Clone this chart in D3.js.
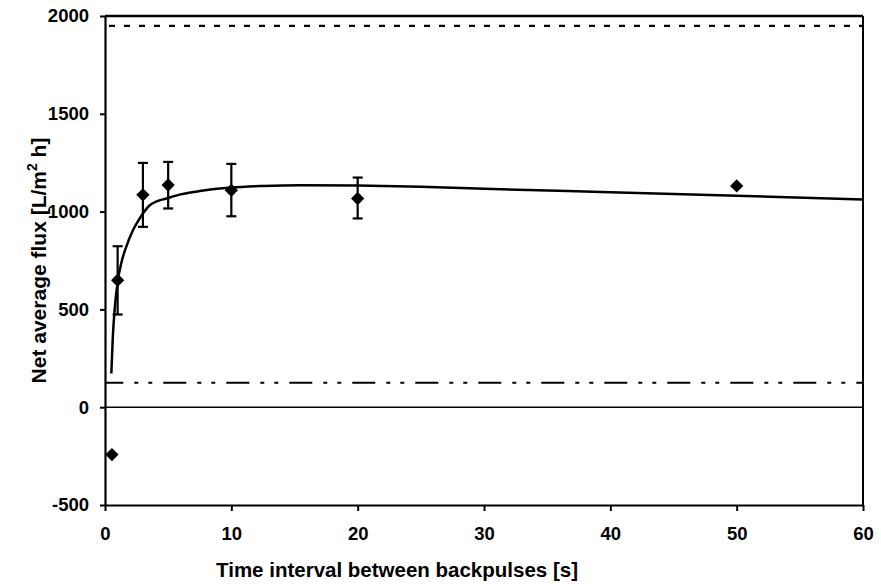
<!DOCTYPE html>
<html>
<head>
<meta charset="utf-8">
<script src="https://cdn.jsdelivr.net/npm/d3@7"></script>
<style>
  body { margin: 0; background: #fff; }
  svg { display: block; font-family: "Liberation Sans", Arial, sans-serif; font-weight: bold; }
</style>
</head>
<body>
<div id="chart"></div>
<script>
const width = 881;
const height = 584;
const margin = { top: 16, left: 105, right: 18, bottom: 79 };

// measured points
const pointX = [0.55, 1, 3, 5, 10, 20, 50];
const pointY = [-242, 649, 1086, 1136, 1109, 1067, 1131];
// error bars (only where drawn)
const errX = [1, 3, 5, 10, 20];
const errLow = [474, 922, 1016, 976, 965];
const errHigh = [823, 1249, 1254, 1244, 1174];

// fitted curve
const curveX = [0.5, 0.62, 0.76, 1, 1.3, 1.68, 2.21, 2.6, 3, 3.5, 4, 4.86, 6, 7.5, 10, 12.5, 15.5, 20, 25, 30, 40, 50, 60];
const curveY = [172, 360, 496, 640, 740, 820, 905, 950, 990, 1030, 1050, 1067, 1088, 1105, 1123, 1131, 1135, 1133, 1127, 1117, 1099, 1081, 1062];

// reference lines
const upperLine = 1950;
const lowerLine = 125;

const xTicks = [0, 10, 20, 30, 40, 50, 60];
const yTicks = [-500, 0, 500, 1000, 1500, 2000];

const svg = d3.select("#chart").append("svg")
  .attr("width", width)
  .attr("height", height);

const x = d3.scaleLinear()
  .domain([0, 60])
  .range([margin.left, width - margin.right]);

const y = d3.scaleLinear()
  .domain([-500, 2000])
  .range([height - margin.bottom, margin.top]);

// frame (top + right)
svg.append("line")
  .attr("x1", x(0)).attr("x2", x(60))
  .attr("y1", y(2000)).attr("y2", y(2000))
  .attr("stroke", "#000").attr("stroke-width", 2.5);
svg.append("line")
  .attr("x1", x(60)).attr("x2", x(60))
  .attr("y1", y(2000)).attr("y2", y(-500))
  .attr("stroke", "#000").attr("stroke-width", 2);

// zero line
svg.append("line")
  .attr("x1", x(0)).attr("x2", x(60))
  .attr("y1", y(0)).attr("y2", y(0))
  .attr("stroke", "#000").attr("stroke-width", 1.6);

// dashed reference lines
svg.append("line")
  .attr("x1", x(0) + 4).attr("x2", x(60))
  .attr("y1", y(upperLine)).attr("y2", y(upperLine))
  .attr("stroke", "#000").attr("stroke-width", 2.2)
  .attr("stroke-dasharray", "6,9");

svg.append("line")
  .attr("x1", x(0)).attr("x2", x(60))
  .attr("y1", y(lowerLine)).attr("y2", y(lowerLine))
  .attr("stroke", "#000").attr("stroke-width", 2.2)
  .attr("stroke-dasharray", "23,11,4,10,4,11")
  .attr("stroke-dashoffset", 4.7);

// axes
const fmt = d => String(d);
const xAxis = svg.append("g")
  .attr("transform", `translate(0,${y(-500)})`)
  .call(d3.axisBottom(x).tickValues(xTicks).tickFormat(fmt).tickSizeInner(6).tickSizeOuter(0).tickPadding(16));

const yAxis = svg.append("g")
  .attr("transform", `translate(${x(0)},0)`)
  .call(d3.axisLeft(y).tickValues(yTicks).tickFormat(fmt).tickSizeInner(5).tickSizeOuter(0).tickPadding(11));

[xAxis, yAxis].forEach(a => {
  a.attr("font-size", null).attr("font-family", null);
  a.select(".domain").attr("stroke-width", 2.2);
  a.selectAll(".tick line").attr("stroke-width", 2);
  a.selectAll("text")
    .style("font-size", "18.5px")
    .style("font-weight", "bold")
    .attr("fill", "#000");
});

// fitted curve
const line = d3.line()
  .x(d => x(d[0]))
  .y(d => y(d[1]))
  .curve(d3.curveMonotoneX);

svg.append("path")
  .datum(curveX.map((d, i) => [d, curveY[i]]))
  .attr("d", line)
  .attr("fill", "none")
  .attr("stroke", "#000")
  .attr("stroke-width", 2.5);

// error bars
const errData = errX.map((d, i) => ({ x: d, lo: errLow[i], hi: errHigh[i] }));
const gErr = svg.append("g").attr("stroke", "#000").attr("stroke-width", 2.2);
gErr.selectAll(".bar")
  .data(errData)
  .enter().append("line")
  .attr("x1", d => x(d.x)).attr("x2", d => x(d.x))
  .attr("y1", d => y(d.lo)).attr("y2", d => y(d.hi));
gErr.selectAll(".capHi")
  .data(errData)
  .enter().append("line")
  .attr("x1", d => x(d.x) - 5).attr("x2", d => x(d.x) + 5)
  .attr("y1", d => y(d.hi)).attr("y2", d => y(d.hi));
gErr.selectAll(".capLo")
  .data(errData)
  .enter().append("line")
  .attr("x1", d => x(d.x) - 5).attr("x2", d => x(d.x) + 5)
  .attr("y1", d => y(d.lo)).attr("y2", d => y(d.lo));

// diamond markers
const diamond = d3.symbol().type(d3.symbolSquare).size(88);
svg.append("g")
  .selectAll("path")
  .data(pointX.map((d, i) => [d, pointY[i]]))
  .enter().append("path")
  .attr("d", diamond)
  .attr("transform", d => `translate(${x(d[0])},${y(d[1])}) rotate(45)`)
  .attr("fill", "#000");

// axis titles
svg.append("text")
  .attr("x", 397)
  .attr("y", 577)
  .attr("text-anchor", "middle")
  .style("font-size", "20.5px")
  .text("Time interval between backpulses [s]");

const yLabel = svg.append("text")
  .attr("transform", `translate(46,${(y(2000) + y(-500)) / 2}) rotate(-90)`)
  .attr("text-anchor", "middle")
  .style("font-size", "21px");
yLabel.append("tspan").text("Net average flux [L/m");
yLabel.append("tspan").style("font-size", "14px").attr("dy", -9).text("2");
yLabel.append("tspan").attr("dy", 9).text(" h]");
</script>
</body>
</html>
